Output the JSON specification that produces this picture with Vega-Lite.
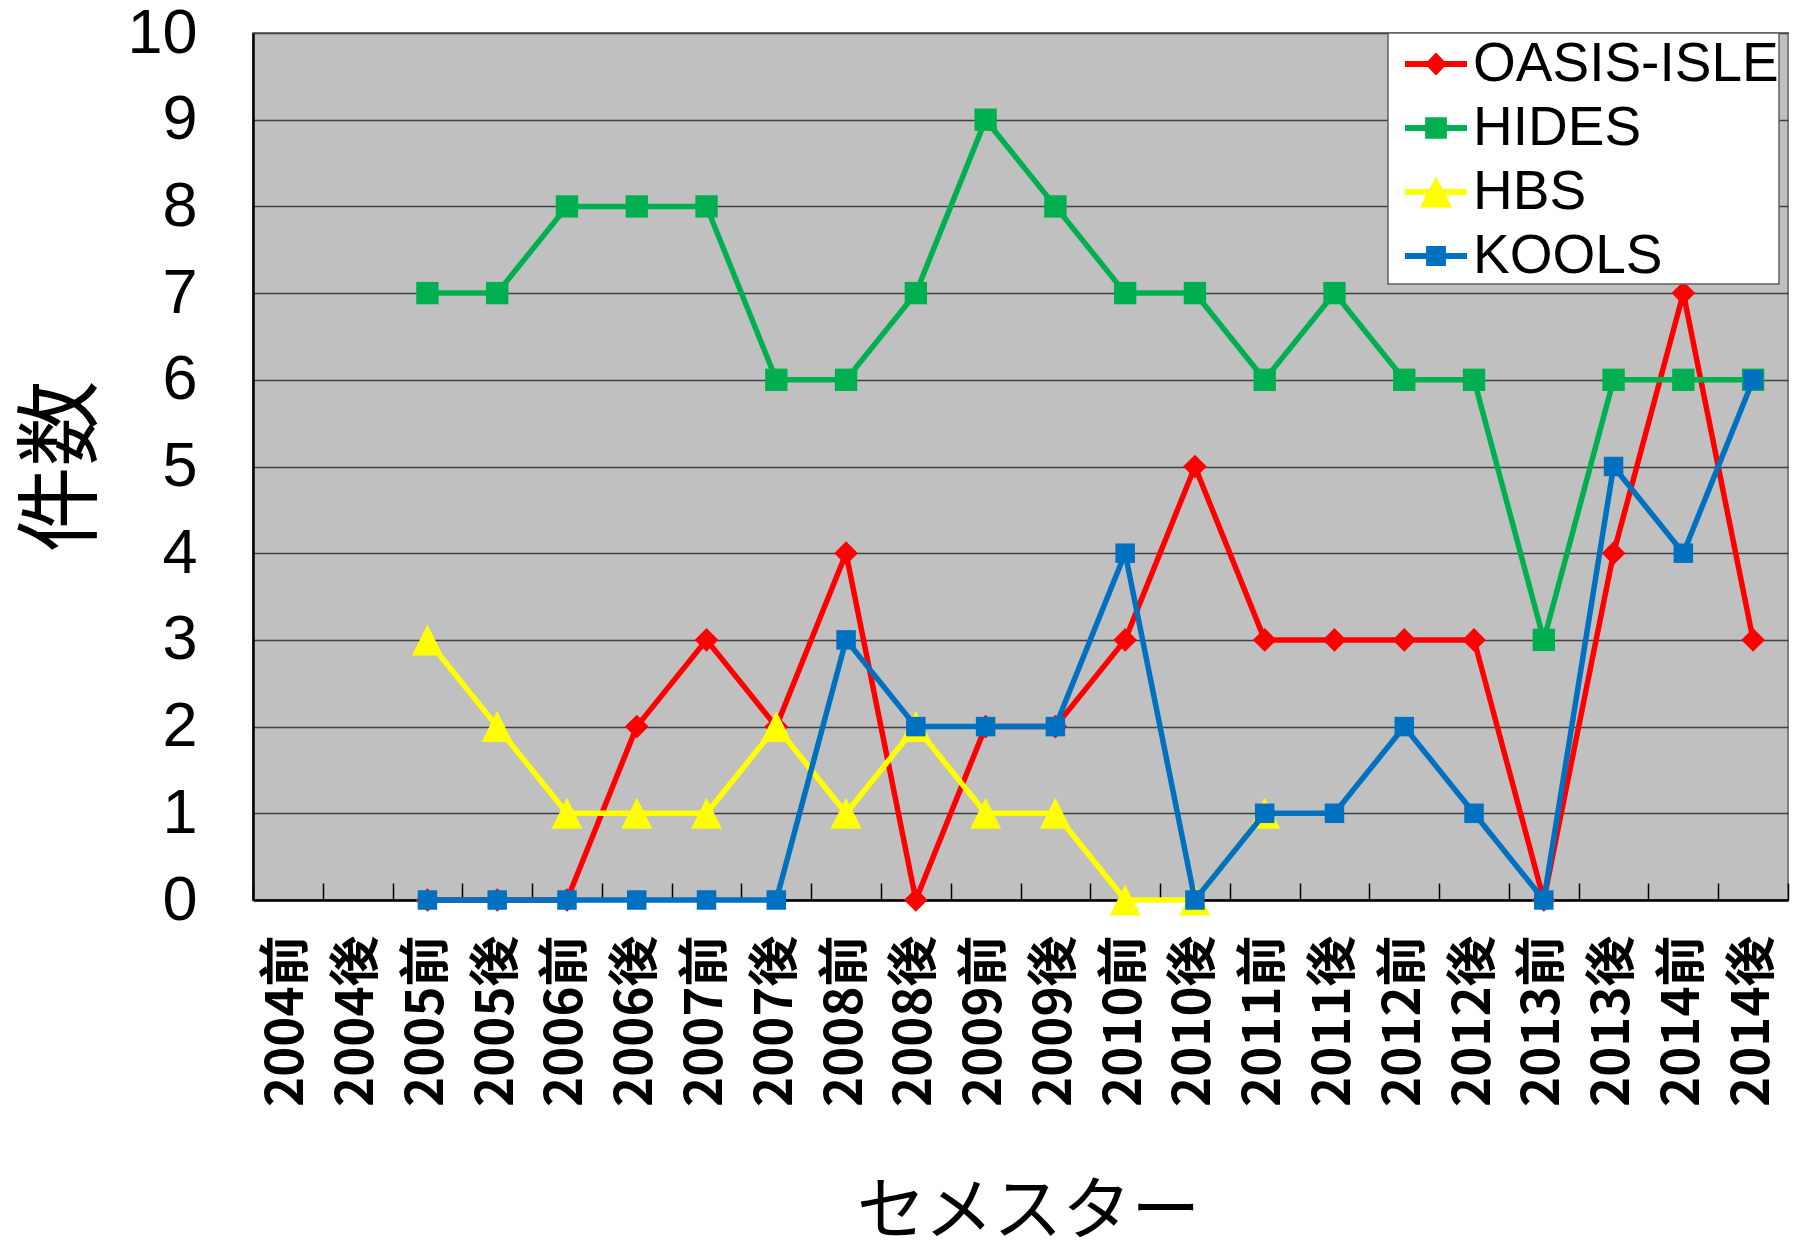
{
  "$schema": "https://vega.github.io/schema/vega-lite/v6.json",
  "width": 1535,
  "height": 867,
  "autosize": {"type": "none"},
  "padding": {"left": 253, "top": 33, "right": 10, "bottom": 351},
  "background": "white",
  "config": {
    "view": {"fill": "#C0C0C0", "stroke": "#808080", "strokeWidth": 2},
    "font": "Noto Sans CJK JP"
  },
  "data": {
    "values": [
      {"semester": "2005前", "series": "OASIS-ISLE", "count": 0},
      {"semester": "2005後", "series": "OASIS-ISLE", "count": 0},
      {"semester": "2006前", "series": "OASIS-ISLE", "count": 0},
      {"semester": "2006後", "series": "OASIS-ISLE", "count": 2},
      {"semester": "2007前", "series": "OASIS-ISLE", "count": 3},
      {"semester": "2007後", "series": "OASIS-ISLE", "count": 2},
      {"semester": "2008前", "series": "OASIS-ISLE", "count": 4},
      {"semester": "2008後", "series": "OASIS-ISLE", "count": 0},
      {"semester": "2009前", "series": "OASIS-ISLE", "count": 2},
      {"semester": "2009後", "series": "OASIS-ISLE", "count": 2},
      {"semester": "2010前", "series": "OASIS-ISLE", "count": 3},
      {"semester": "2010後", "series": "OASIS-ISLE", "count": 5},
      {"semester": "2011前", "series": "OASIS-ISLE", "count": 3},
      {"semester": "2011後", "series": "OASIS-ISLE", "count": 3},
      {"semester": "2012前", "series": "OASIS-ISLE", "count": 3},
      {"semester": "2012後", "series": "OASIS-ISLE", "count": 3},
      {"semester": "2013前", "series": "OASIS-ISLE", "count": 0},
      {"semester": "2013後", "series": "OASIS-ISLE", "count": 4},
      {"semester": "2014前", "series": "OASIS-ISLE", "count": 7},
      {"semester": "2014後", "series": "OASIS-ISLE", "count": 3},
      {"semester": "2005前", "series": "HIDES", "count": 7},
      {"semester": "2005後", "series": "HIDES", "count": 7},
      {"semester": "2006前", "series": "HIDES", "count": 8},
      {"semester": "2006後", "series": "HIDES", "count": 8},
      {"semester": "2007前", "series": "HIDES", "count": 8},
      {"semester": "2007後", "series": "HIDES", "count": 6},
      {"semester": "2008前", "series": "HIDES", "count": 6},
      {"semester": "2008後", "series": "HIDES", "count": 7},
      {"semester": "2009前", "series": "HIDES", "count": 9},
      {"semester": "2009後", "series": "HIDES", "count": 8},
      {"semester": "2010前", "series": "HIDES", "count": 7},
      {"semester": "2010後", "series": "HIDES", "count": 7},
      {"semester": "2011前", "series": "HIDES", "count": 6},
      {"semester": "2011後", "series": "HIDES", "count": 7},
      {"semester": "2012前", "series": "HIDES", "count": 6},
      {"semester": "2012後", "series": "HIDES", "count": 6},
      {"semester": "2013前", "series": "HIDES", "count": 3},
      {"semester": "2013後", "series": "HIDES", "count": 6},
      {"semester": "2014前", "series": "HIDES", "count": 6},
      {"semester": "2014後", "series": "HIDES", "count": 6},
      {"semester": "2005前", "series": "HBS", "count": 3},
      {"semester": "2005後", "series": "HBS", "count": 2},
      {"semester": "2006前", "series": "HBS", "count": 1},
      {"semester": "2006後", "series": "HBS", "count": 1},
      {"semester": "2007前", "series": "HBS", "count": 1},
      {"semester": "2007後", "series": "HBS", "count": 2},
      {"semester": "2008前", "series": "HBS", "count": 1},
      {"semester": "2008後", "series": "HBS", "count": 2},
      {"semester": "2009前", "series": "HBS", "count": 1},
      {"semester": "2009後", "series": "HBS", "count": 1},
      {"semester": "2010前", "series": "HBS", "count": 0},
      {"semester": "2010後", "series": "HBS", "count": 0},
      {"semester": "2011前", "series": "HBS", "count": 1},
      {"semester": "2005前", "series": "KOOLS", "count": 0},
      {"semester": "2005後", "series": "KOOLS", "count": 0},
      {"semester": "2006前", "series": "KOOLS", "count": 0},
      {"semester": "2006後", "series": "KOOLS", "count": 0},
      {"semester": "2007前", "series": "KOOLS", "count": 0},
      {"semester": "2007後", "series": "KOOLS", "count": 0},
      {"semester": "2008前", "series": "KOOLS", "count": 3},
      {"semester": "2008後", "series": "KOOLS", "count": 2},
      {"semester": "2009前", "series": "KOOLS", "count": 2},
      {"semester": "2009後", "series": "KOOLS", "count": 2},
      {"semester": "2010前", "series": "KOOLS", "count": 4},
      {"semester": "2010後", "series": "KOOLS", "count": 0},
      {"semester": "2011前", "series": "KOOLS", "count": 1},
      {"semester": "2011後", "series": "KOOLS", "count": 1},
      {"semester": "2012前", "series": "KOOLS", "count": 2},
      {"semester": "2012後", "series": "KOOLS", "count": 1},
      {"semester": "2013前", "series": "KOOLS", "count": 0},
      {"semester": "2013後", "series": "KOOLS", "count": 5},
      {"semester": "2014前", "series": "KOOLS", "count": 4},
      {"semester": "2014後", "series": "KOOLS", "count": 6}
    ]
  },
  "encoding": {
    "x": {
      "field": "semester",
      "type": "nominal",
      "bandPosition": 0.5,
      "scale": {
        "type": "band",
        "paddingInner": 0,
        "paddingOuter": 0,
        "domain": ["2004前","2004後","2005前","2005後","2006前","2006後","2007前","2007後","2008前","2008後","2009前","2009後","2010前","2010後","2011前","2011後","2012前","2012後","2013前","2013後","2014前","2014後"]
      },
      "axis": {
        "title": "セメスター",
        "titleFont": "Noto Sans CJK JP",
        "titleFontSize": 69,
        "titleFontWeight": "normal",
        "titleColor": "black",
        "titleX": 775,
        "titleY": 312,
        "titleAlign": "center",
        "titleBaseline": "middle",
        "labelAngle": 270,
        "labelAlign": "right",
        "labelBaseline": "middle",
        "labelFont": "Noto Sans CJK JP",
        "labelFontSize": 51,
        "labelFontWeight": "bold",
        "labelColor": "black",
        "labelPadding": 52,
        "labelLimit": 400,
        "labelOverlap": false,
        "grid": false,
        "ticks": true,
        "tickBand": "extent",
        "tickSize": -17,
        "tickColor": "black",
        "tickWidth": 1.5,
        "domainColor": "black",
        "domainWidth": 2.5
      }
    },
    "y": {
      "field": "count",
      "type": "quantitative",
      "scale": {"domain": [0, 10], "nice": false},
      "axis": {
        "values": [0,1,2,3,4,5,6,7,8,9,10],
        "title": "件数",
        "titleFont": "Noto Sans CJK JP",
        "titleFontSize": 86,
        "titleFontWeight": "normal",
        "titleColor": "black",
        "titleX": -190,
        "titleY": 433,
        "titleAngle": 270,
        "titleAlign": "center",
        "titleBaseline": "middle",
        "labelFont": "Liberation Sans",
        "labelFontSize": 63,
        "labelColor": "black",
        "labelPadding": 56,
        "ticks": false,
        "grid": true,
        "gridColor": "#404040",
        "gridWidth": 1.3,
        "domainColor": "black",
        "domainWidth": 2.5
      }
    },
    "color": {
      "field": "series",
      "type": "nominal",
      "scale": {
        "domain": ["OASIS-ISLE", "HIDES", "HBS", "KOOLS"],
        "range": ["#FF0000", "#00B050", "#FFFF00", "#0070C0"]
      },
      "legend": {
        "orient": "none",
        "legendX": 1135,
        "legendY": 0,
        "title": null,
        "padding": 0,
        "fillColor": "white",
        "strokeColor": "#606060",
        "symbolSize": 3844,
        "symbolOffset": 17,
        "labelOffset": 6,
        "labelFont": "Liberation Sans",
        "labelFontSize": 55,
        "labelColor": "black",
        "labelLimit": 600,
        "rowPadding": 5,
        "encode": {
          "legend": {"update": {"strokeWidth": {"value": 1.5}}},
          "symbols": {
            "update": {
              "shape": {"signal": "datum.value === 'OASIS-ISLE' ? 'M-1,-0.1H1V0.1H-1Z M-0.36,0L0,-0.37L0.36,0L0,0.37Z' : datum.value === 'HIDES' ? 'M-1,-0.1H1V0.1H-1Z M-0.35,-0.35H0.35V0.35H-0.35Z' : datum.value === 'HBS' ? 'M-1,-0.1H1V0.1H-1Z M0,-0.5L0.52,0.5L-0.52,0.5Z' : 'M-1,-0.1H1V0.1H-1Z M-0.32,-0.32H0.32V0.32H-0.32Z'"},
              "fill": {"signal": "scale('color', datum.value)"},
              "strokeWidth": {"value": 0},
              "size": {"value": 3844},
              "opacity": {"value": 1}
            }
          }
        }
      }
    }
  },
  "layer": [
    {"transform": [{"filter": "datum.series === 'OASIS-ISLE'"}], "mark": {"type": "line", "strokeWidth": 5.5}},
    {"transform": [{"filter": "datum.series === 'OASIS-ISLE'"}], "mark": {"type": "point", "shape": "diamond", "size": 560, "filled": true, "opacity": 1}},
    {"transform": [{"filter": "datum.series === 'HIDES'"}], "mark": {"type": "line", "strokeWidth": 5.5}},
    {"transform": [{"filter": "datum.series === 'HIDES'"}], "mark": {"type": "point", "shape": "square", "size": 500, "filled": true, "opacity": 1}},
    {"transform": [{"filter": "datum.series === 'HBS'"}], "mark": {"type": "line", "strokeWidth": 5.5}},
    {"transform": [{"filter": "datum.series === 'HBS'"}], "mark": {"type": "point", "shape": "M0,-1L1,1L-1,1Z", "size": 960, "filled": true, "opacity": 1}},
    {"transform": [{"filter": "datum.series === 'KOOLS'"}], "mark": {"type": "line", "strokeWidth": 5.5}},
    {"transform": [{"filter": "datum.series === 'KOOLS'"}], "mark": {"type": "point", "shape": "square", "size": 380, "filled": true, "opacity": 1}}
  ]
}
